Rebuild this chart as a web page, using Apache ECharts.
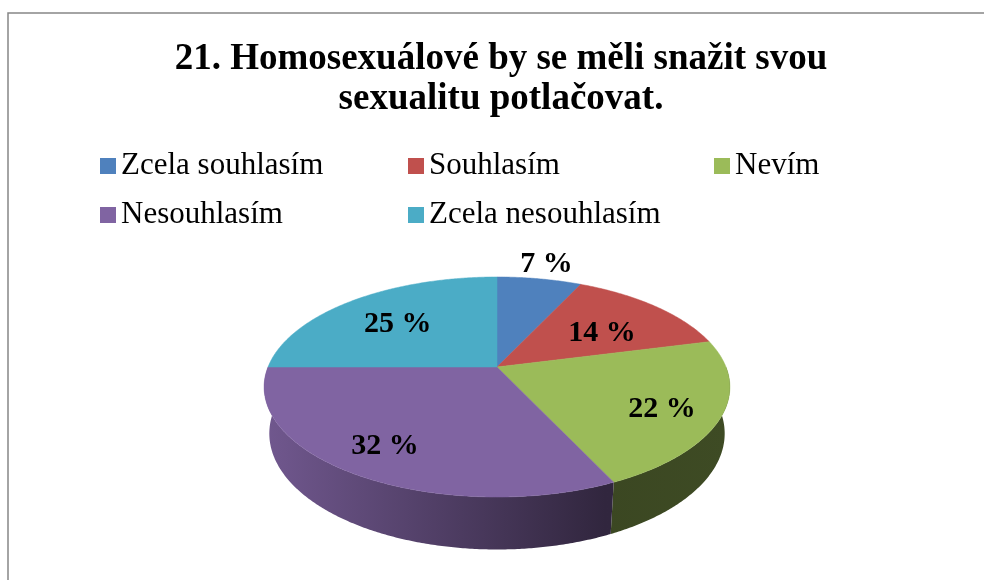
<!DOCTYPE html>
<html lang="cs">
<head>
<meta charset="utf-8">
<title>21. Homosexuálové by se měli snažit svou sexualitu potlačovat.</title>
<script src="https://cdn.jsdelivr.net/npm/echarts@6/dist/echarts.min.js"></script>
<style>
  html, body { margin: 0; padding: 0; background: #fff; }
  #chart { width: 984px; height: 580px; }
</style>
</head>
<body>
<div id="chart"></div>
<script>
  // --- data ---
  var categories = ['Zcela souhlasím', 'Souhlasím', 'Nevím', 'Nesouhlasím', 'Zcela nesouhlasím'];
  var percents = [7, 14, 22, 32, 25];
  var colors = ['#4F81BD', '#C0504D', '#9BBB59', '#8064A2', '#4BACC6'];

  // label placement (radial fraction of the radius, nudges in px)
  var labelFrac = [1.2, 0.6, 0.75, 0.8, 0.65];
  var labelDx = [0, 6, 0, 0, -2];
  var labelDy = [0, 4, 6, -3, 2];

  // 3D pie geometry: centre, radius, thickness, camera distance, tilt
  var CX = 497, CY = 367, R = 229, H = 53, D = 1115;
  var SIN_A = 0.4646, COS_A = Math.sqrt(1 - SIN_A * SIN_A);

  var total = percents.reduce(function (a, b) { return a + b; }, 0);
  var starts = [];
  percents.reduce(function (acc, v, i) { starts[i] = acc / total * 2 * Math.PI; return acc + v; }, 0);

  // theta: clockwise from 12 o'clock, y3: drop below the top face
  function project(frac, theta, y3) {
    var X = R * frac * Math.sin(theta);
    var Z = -R * frac * Math.cos(theta);
    var sy = y3 * COS_A + Z * SIN_A;
    var depth = Z * COS_A - y3 * SIN_A;
    var s = D / (D - depth);
    return [CX + X * s, CY + sy * s];
  }

  function shade(hex, f) {
    var n = parseInt(hex.slice(1), 16);
    var r = Math.round(((n >> 16) & 255) * f);
    var g = Math.round(((n >> 8) & 255) * f);
    var b = Math.round((n & 255) * f);
    return 'rgb(' + r + ',' + g + ',' + b + ')';
  }

  function renderSlice(i) {
    return function (params, api) {
      var val = api.value(0);
      var a0 = starts[i];
      var a1 = a0 + val / total * 2 * Math.PI;
      var step = Math.PI / 360;
      var n = Math.max(2, Math.ceil((a1 - a0) / step));
      var k;

      var top = [project(0, 0, 0)];
      for (k = 0; k <= n; k++) top.push(project(1, a0 + (a1 - a0) * k / n, 0));

      var children = [{
        type: 'polygon',
        z2: 10,
        shape: { points: top },
        style: { fill: colors[i], stroke: colors[i], lineWidth: 0.5 }
      }];

      // outer wall, only the front half is visible
      var w0 = Math.max(a0, Math.PI / 2), w1 = Math.min(a1, Math.PI * 1.5);
      if (w1 > w0) {
        var m = Math.max(2, Math.ceil((w1 - w0) / step));
        var wall = [];
        for (k = 0; k <= m; k++) wall.push(project(1, w0 + (w1 - w0) * k / m, 0));
        for (k = m; k >= 0; k--) wall.push(project(1, w0 + (w1 - w0) * k / m, H));
        var fill = new echarts.graphic.LinearGradient(263, 0, 729, 0, [
          { offset: 0, color: shade(colors[i], 0.88) },
          { offset: 0.734, color: shade(colors[i], 0.38) },
          { offset: 1, color: shade(colors[i], 0.40) }
        ], true);
        children.push({
          type: 'polygon',
          z2: 1,
          shape: { points: wall },
          style: { fill: fill }
        });
      }

      var mid = (a0 + a1) / 2;
      var p = project(labelFrac[i], mid, 0);
      children.push({
        type: 'text',
        z2: 20,
        x: p[0] + labelDx[i],
        y: p[1] + labelDy[i],
        style: {
          text: val + ' %',
          fill: '#000',
          font: 'bold 30px "Liberation Serif", "Times New Roman", serif',
          align: 'center',
          verticalAlign: 'middle'
        }
      });

      return { type: 'group', children: children };
    };
  }

  var legendCommon = {
    orient: 'vertical',
    top: 149,
    padding: 0,
    icon: 'rect',
    itemWidth: 16,
    itemHeight: 16,
    itemGap: 15,
    selectedMode: false,
    textStyle: {
      fontFamily: '"Liberation Serif", "Times New Roman", serif',
      fontSize: 31,
      lineHeight: 34,
      color: '#000'
    }
  };

  var chart = echarts.init(document.getElementById('chart'));
  chart.setOption({
    animation: false,
    title: {
      text: '21. Homosexuálové by se měli snažit svou\nsexualitu potlačovat.',
      left: 501,
      textAlign: 'center',
      top: 39,
      padding: 0,
      textStyle: {
        fontFamily: '"Liberation Serif", "Times New Roman", serif',
        fontWeight: 'bold',
        fontSize: 37,
        lineHeight: 40,
        color: '#000'
      }
    },
    legend: [
      Object.assign({ left: 100, data: [categories[0], categories[3]] }, legendCommon),
      Object.assign({ left: 408, data: [categories[1], categories[4]] }, legendCommon),
      Object.assign({ left: 714, data: [categories[2]] }, legendCommon)
    ],
    graphic: [{
      type: 'rect',
      shape: { x: 8, y: 13, width: 1000, height: 600 },
      style: { fill: 'none', stroke: '#868686', lineWidth: 1.5 },
      silent: true
    }],
    series: categories.map(function (name, i) {
      return {
        type: 'custom',
        name: name,
        coordinateSystem: 'none',
        itemStyle: { color: colors[i] },
        data: [[percents[i]]],
        renderItem: renderSlice(i)
      };
    })
  });

  window.onresize = function () { chart.resize(); };
</script>
</body>
</html>
